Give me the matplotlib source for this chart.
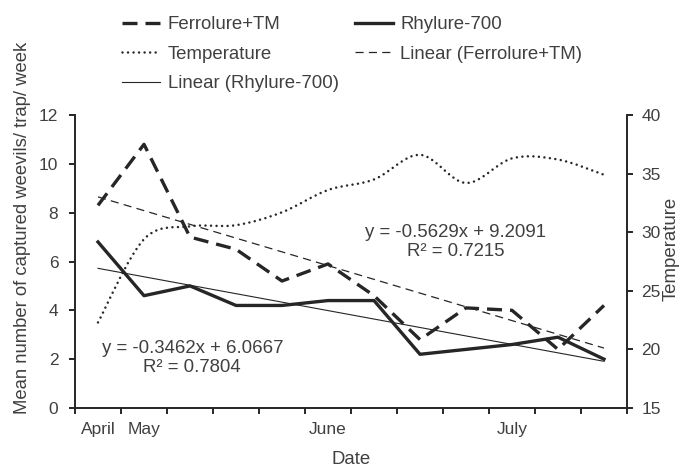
import numpy as np
import matplotlib
matplotlib.use("Agg")
from matplotlib import pyplot as plt
from matplotlib.path import Path
from matplotlib.patches import PathPatch
from matplotlib.lines import Line2D

# data (12 weekly samples)
weeks = np.arange(1, 13)
month_labels = ["April", "May", "", "", "", "June", "", "", "", "July", "", ""]
ferrolure = [8.3, 10.8, 7.0, 6.5, 5.2, 5.9, 4.6, 2.8, 4.1, 4.0, 2.4, 4.2]
rhylure = [6.8, 4.6, 5.0, 4.2, 4.2, 4.4, 4.4, 2.2, 2.4, 2.6, 2.9, 2.0]
temperature = [22.3, 29.4, 30.5, 30.6, 31.7, 33.6, 34.5, 36.6, 34.2, 36.3, 36.2, 34.9]
# trend line coefficients (slope, intercept) as printed on the chart
fit_ferrolure = (-0.5629, 9.2091)
fit_rhylure = (-0.3462, 6.0667)
r2_ferrolure = 0.7215
r2_rhylure = 0.7804

TXT = "#404040"
LN = "#262626"
plt.rcParams["font.family"] = ["Liberation Sans", "DejaVu Sans"]
plt.rcParams["font.size"] = 12.5

fig = plt.figure(figsize=(6.87, 4.69), dpi=100)
ax = fig.add_axes([75/687, 1-408/469, 552/687, 293/469])
ax2 = ax.twinx()

xpos = weeks - 0.5

ax.plot(xpos, ferrolure, color=LN, lw=2.4, dashes=(4.5, 2.4))
ax.plot(xpos, rhylure, color=LN, lw=2.4)
ax.plot(xpos, fit_ferrolure[0]*weeks + fit_ferrolure[1], color=LN, lw=0.9, dashes=(6.5, 4.2))
ax.plot(xpos, fit_rhylure[0]*weeks + fit_rhylure[1], color=LN, lw=0.8)

# smoothed temperature curve (Excel-like smoothing, bezier through the points)
pts = np.column_stack([xpos, temperature])
verts = [pts[0]]
codes = [Path.MOVETO]
for i in range(len(pts) - 1):
    p0 = pts[max(i - 1, 0)]
    p1 = pts[i]
    p2 = pts[i + 1]
    p3 = pts[min(i + 2, len(pts) - 1)]
    verts += [p1 + (p2 - p0) / 6, p2 - (p3 - p1) / 6, p2]
    codes += [Path.CURVE4] * 3
ax2.add_patch(PathPatch(Path(verts, codes), fill=False, edgecolor=LN, lw=1.8,
                        linestyle=(0, (0.01, 2.2)), capstyle="round"))

ax.set_xlim(0, 12)
ax.set_ylim(0, 12)
ax2.set_ylim(15, 40)
ax.set_yticks(range(0, 13, 2))
ax2.set_yticks(range(15, 41, 5))
ax.set_xticks(range(0, 13))
ax.set_xticklabels([])
ax.set_xticks(xpos, minor=True)
ax.set_xticklabels(month_labels, minor=True)
ax.tick_params(axis="x", which="minor", length=0, pad=10, colors=TXT, labelsize=12.5)

for a in (ax, ax2):
    a.spines["top"].set_visible(False)
    for s in a.spines.values():
        s.set_linewidth(1.4)
        s.set_color(LN)
    a.tick_params(which="major", width=1.4, length=4, color=LN, labelcolor=TXT, labelsize=12.5)
ax.tick_params(axis="y", pad=8)
ax2.tick_params(axis="y", pad=6.5)
ax2.spines["left"].set_visible(False)
ax2.spines["bottom"].set_visible(False)
ax.spines["right"].set_visible(False)

ax.set_xlabel("Date", color=TXT, fontsize=13.4, labelpad=10)
ax.set_ylabel("Mean number of captured weevils/ trap/ week", color=TXT, fontsize=13.3)
ax.yaxis.set_label_coords(-0.080, 0.614)
ax2.set_ylabel("Temperature", color=TXT, fontsize=13.4)
ax2.yaxis.set_label_coords(1.064, 0.543)

ax.text(8.27, 6.8, "y = -0.5629x + 9.2091\nR² = %.4f" % r2_ferrolure, ha="center", va="center",
        fontsize=13.4, color=TXT, linespacing=1.2)
ax.text(2.55, 2.05, "y = -0.3462x + 6.0667\nR² = %.4f" % r2_rhylure, ha="center", va="center",
        fontsize=13.4, color=TXT, linespacing=1.2)

h_f = Line2D([], [], color=LN, lw=2.4, dashes=(4.5, 2.4))
h_r = Line2D([], [], color=LN, lw=2.4)
h_t = Line2D([], [], color=LN, lw=1.8, linestyle=(0, (0.01, 2.2)), dash_capstyle="round")
h_lf = Line2D([], [], color=LN, lw=0.9, dashes=(6.5, 4.2))
h_lr = Line2D([], [], color=LN, lw=0.8)
leg = fig.legend([h_f, h_t, h_lr, h_r, h_lf],
                 ["Ferrolure+TM", "Temperature", "Linear (Rhylure-700)", "Rhylure-700", "Linear (Ferrolure+TM)"],
                 ncol=2, frameon=False, loc="upper left", bbox_to_anchor=(122/687, 1-16/469),
                 fontsize=13.4, handlelength=2.05, handletextpad=0.4, columnspacing=0.86,
                 labelspacing=0.67, borderaxespad=0, borderpad=0)
for t in leg.get_texts():
    t.set_color(TXT)

fig.savefig("out.png", dpi=100)
